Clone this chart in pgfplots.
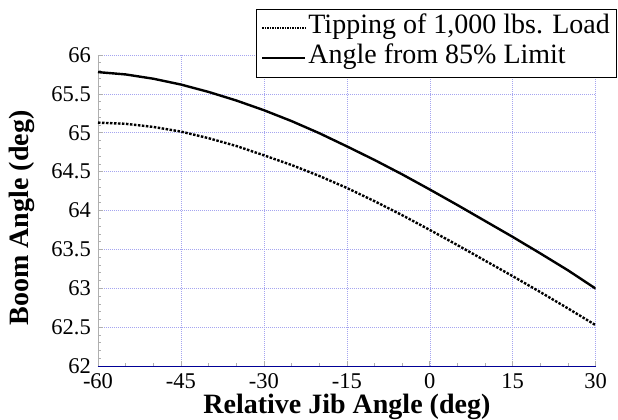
\documentclass[border=0pt]{standalone}
\usepackage{pgfplots}
\pgfplotsset{compat=1.18}
\usepackage{fontspec}
\setmainfont{Liberation Serif}
\definecolor{gridblue}{RGB}{165,165,240}
\definecolor{axblue}{RGB}{0,0,150}
\definecolor{ygray}{RGB}{175,175,175}
\begin{document}
\begin{tikzpicture}
\begin{axis}[
  name=ax,
  scale only axis,
  width=497.7pt, height=311pt,
  xmin=-60, xmax=30, ymin=62, ymax=66,
  xtick={-60,-45,-30,-15,0,15,30},
  xticklabels={-60,-45,-30,-15,0,15,30},
  ytick={62,62.5,63,63.5,64,64.5,65,65.5,66},
  yticklabels={62,62.5,63,63.5,64,64.5,65,65.5,66},
  minor x tick num=2,
  minor y tick num=4,
  axis lines*=left,
  x axis line style={draw=axblue, line width=0.8pt},
  y axis line style={draw=ygray, line width=0.8pt},
  tick align=inside,
  major tick length=5pt,
  minor tick length=3pt,
  every tick/.style={draw=ygray, line width=0.6pt},
  grid=major,
  major grid style={draw=gridblue, line width=0.5pt, dash pattern=on 1pt off 1pt},
  tick label style={font=\rmfamily\fontsize{22.5}{24}\selectfont, inner sep=0pt},
  yticklabel style={anchor=east, xshift=-7pt},
  xticklabel style={anchor=north, yshift=-7.5pt},
  xlabel={Relative Jib Angle (deg)},
  ylabel={Boom Angle (deg)},
  label style={font=\rmfamily\fontsize{28}{30}\selectfont\bfseries, inner sep=0pt},
  xlabel style={at={(axis description cs:0.5,-0.153)}, anchor=base},
  ylabel style={at={(axis description cs:-0.153,0.476)}, anchor=center},
  legend style={at={(1.0438,1.1495)}, anchor=north east, draw=black, line width=1.2pt,
    fill=white, font=\rmfamily\fontsize{28}{30}\selectfont, inner xsep=5pt, inner ysep=4pt,
    row sep=0pt,
    nodes={inner xsep=2pt, inner ysep=0pt, text height=20pt, text depth=10pt}},
  legend cell align=left,
]
\addplot[black, line width=2.4pt, dash pattern=on 2.5pt off 1.5pt,
  legend image code/.code={\draw[black, line width=1.3pt, dash pattern=on 1.5pt off 1pt] (0pt,0pt) -- (43pt,0pt);}]
coordinates {
(-60,65.13) (-55,65.115) (-50,65.075) (-45,65.015) (-40,64.93) (-35,64.83)
(-30,64.71) (-25,64.585) (-20,64.445) (-15,64.29) (-10,64.12) (-5,63.94)
(0,63.75) (5,63.555) (10,63.355) (15,63.155) (20,62.95) (25,62.74) (30,62.525)
};
\addlegendentry{Tipping of 1,000 lbs. Load}
\addplot[black, line width=2.4pt,
  legend image code/.code={\draw[black, line width=1.8pt] (0pt,0pt) -- (43pt,0pt);}]
coordinates {
(-60,65.78) (-55,65.75) (-50,65.695) (-45,65.62) (-40,65.525) (-35,65.415)
(-30,65.29) (-25,65.15) (-20,64.995) (-15,64.825) (-10,64.65) (-5,64.465)
(0,64.27) (5,64.07) (10,63.865) (15,63.66) (20,63.4475) (25,63.23) (30,62.995)
};
\addlegendentry{Angle from 85\% Limit}
\end{axis}
\pgfresetboundingbox
\useasboundingbox ([shift={(-98pt,-54pt)}]ax.south west) rectangle ([shift={(22.3pt,55pt)}]ax.north east);
\end{tikzpicture}
\end{document}
